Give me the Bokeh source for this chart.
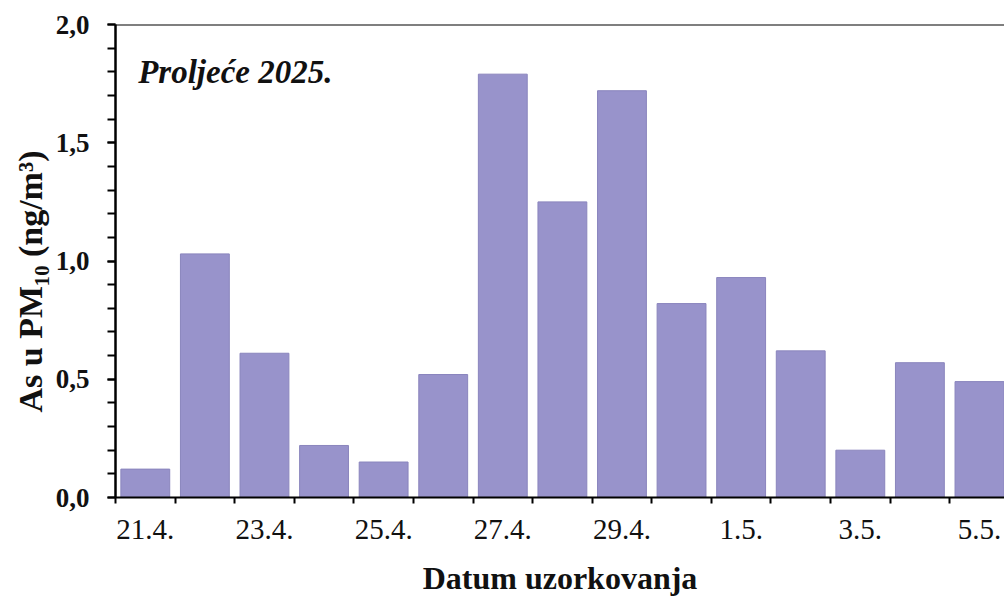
from bokeh.plotting import figure
from bokeh.models import (Range1d, FixedTicker, CustomJSTickFormatter, Span, Label,
                          Title, ColumnDataSource)
from bokeh.embed import file_html
from bokeh.resources import INLINE

# ---- data ----
dates = ["21.4.", "22.4.", "23.4.", "24.4.", "25.4.", "26.4.", "27.4.", "28.4.",
         "29.4.", "30.4.", "1.5.", "2.5.", "3.5.", "4.5.", "5.5."]
values = [0.12, 1.03, 0.61, 0.22, 0.15, 0.52, 1.79, 1.25,
          1.72, 0.82, 0.93, 0.62, 0.20, 0.57, 0.49]
y_ticks = [0.0, 0.5, 1.0, 1.5, 2.0]
y_tick_labels = ["0,0", "0,5", "1,0", "1,5", "2,0"]
title_text = "Proljeće 2025."
x_title = "Datum uzorkovanja"
y_title = "As u PM₁₀ (ng/m³)"

FONT = "Liberation Serif"
BAR = "#9893cb"

x_pos = [i + 0.5 for i in range(len(dates))]
src = ColumnDataSource(dict(x=x_pos, top=values, date=dates))

p = figure(width=1004, height=598, output_backend="svg", toolbar_location=None,
           x_range=Range1d(0, 14.92), y_range=Range1d(0, 2.0),
           min_border_left=115, min_border_top=24, min_border_bottom=96,
           min_border_right=0, x_axis_label=x_title)
p.outline_line_color = None
p.grid.visible = False
p.background_fill_color = "white"
p.border_fill_color = "white"

p.vbar(x="x", top="top", width=0.82, source=src, fill_color=BAR,
       line_color="#8a85bd", line_width=1)

# x axis: ticks at category boundaries, labels under every other bar
xa = p.xaxis[0]
xa.ticker = FixedTicker(ticks=[x_pos[i] for i in range(0, len(dates), 2)],
                        minor_ticks=list(range(len(dates) + 1)))
xa.formatter = CustomJSTickFormatter(args=dict(date_labels=dates),
                                     code="return date_labels[Math.floor(tick)];")
xa.major_tick_out = 0
xa.major_tick_in = 0
xa.minor_tick_out = 6
xa.minor_tick_in = 0
xa.minor_tick_line_width = 2
xa.minor_tick_line_color = "black"
xa.axis_line_width = 2
xa.axis_line_color = "black"
xa.major_label_text_font = FONT
xa.major_label_text_font_size = "29px"
xa.major_label_text_color = "#111111"
xa.major_label_standoff = 16
xa.axis_label_text_font = FONT
xa.axis_label_text_font_size = "32px"
xa.axis_label_text_font_style = "bold"
xa.axis_label_text_color = "#111111"
xa.axis_label_standoff = 18

ya = p.yaxis[0]
ya.ticker = FixedTicker(ticks=y_ticks,
                        minor_ticks=[round(0.1 * i, 1) for i in range(21)])
ya.formatter = CustomJSTickFormatter(args=dict(yvals=y_ticks, ylabs=y_tick_labels),
                                     code="""
let best = 0;
for (let i = 0; i < yvals.length; i++) {
  if (Math.abs(yvals[i] - tick) < Math.abs(yvals[best] - tick)) best = i;
}
return ylabs[best];
""")
ya.major_tick_out = 8
ya.major_tick_in = 0
ya.minor_tick_out = 8
ya.minor_tick_in = 0
ya.major_tick_line_width = 2
ya.minor_tick_line_width = 2
ya.axis_line_width = 2.5
ya.axis_line_color = "black"
ya.major_label_text_font = FONT
ya.major_label_text_font_size = "27px"
ya.major_label_text_font_style = "bold"
ya.major_label_text_color = "#111111"
ya.major_label_standoff = 18

# y-axis title, anchored from the bottom of the frame as in the reference
p.add_layout(Title(text=y_title, align="left", offset=85,
                   text_font=FONT, text_font_size="34px", text_font_style="bold",
                   text_color="#111111", standoff=8), "left")

# top frame line
p.add_layout(Span(location=2.0, dimension="width", line_color="black", line_width=2))

p.add_layout(Label(x=0.38, y=1.80, text=title_text, text_font=FONT,
                   text_font_size="33px", text_font_style="bold italic",
                   text_color="#111111", text_baseline="alphabetic"))

open("out.html", "w").write(file_html(p, INLINE))
